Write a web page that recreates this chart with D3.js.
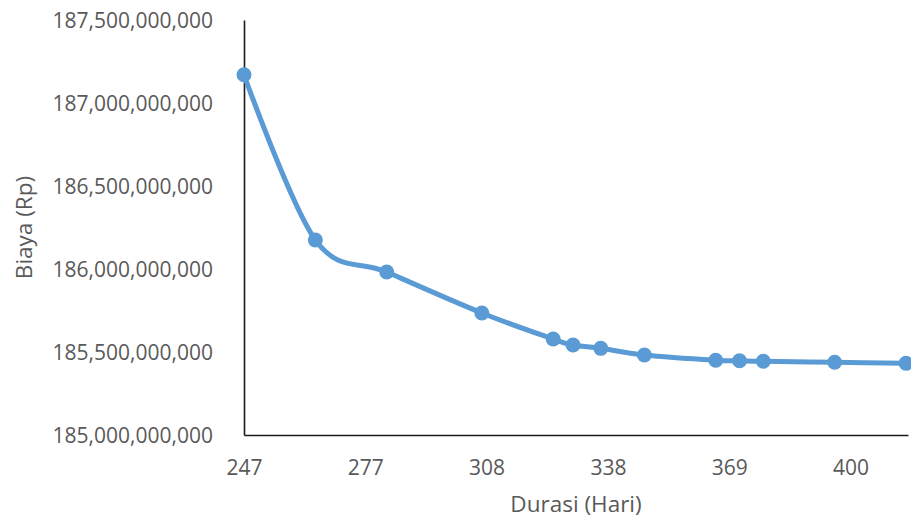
<!DOCTYPE html>
<html>
<head>
<meta charset="utf-8">
<script src="https://cdn.jsdelivr.net/npm/d3@7"></script>
<style>
  html, body { margin: 0; padding: 0; background: #ffffff; }
  svg { display: block; }
  text { font-family: "Open Sans", Lato, sans-serif; fill: #595959; }
</style>
</head>
<body>
<svg id="chart" width="911" height="519"></svg>
<script>
// Project duration (days) against total cost (Rp)
const durasi = [247, 265, 283, 307, 325, 330, 337, 348, 366, 372, 378, 396, 414];
const biaya = [
  187170000000, 186175000000, 185982000000, 185735000000, 185578000000,
  185542000000, 185522000000, 185482000000, 185450000000, 185447000000,
  185444000000, 185438000000, 185432000000
];

const xTickValues = [247, 277.6, 308.2, 338.8, 369.4, 400];
const xTickLabels = ["247", "277", "308", "338", "369", "400"];
const yTickValues = [185000000000, 185500000000, 186000000000, 186500000000, 187000000000, 187500000000];

const xDomain = [247, 414.5];
const yDomain = [185000000000, 187500000000];

const xTitle = "Durasi (Hari)";
const yTitle = "Biaya (Rp)";

const width = 911, height = 519;
const margin = { top: 20, right: 3, bottom: 84, left: 244 };
const fontSize = "21px";
const titleSize = "22.5px";
const fontFamily = "'Open Sans', Lato, sans-serif";

const svg = d3.select("#chart");

const x = d3.scaleLinear().domain(xDomain).range([margin.left, width - margin.right]);
const y = d3.scaleLinear().domain(yDomain).range([height - margin.bottom, margin.top]);

const points = durasi.map((d, i) => ({ x: d, y: biaya[i] }));

// Axes
const xAxis = d3.axisBottom(x)
  .tickValues(xTickValues)
  .tickFormat((d, i) => xTickLabels[i])
  .tickSize(0);

const gx = svg.append("g")
  .attr("transform", `translate(0,${height - margin.bottom})`)
  .call(xAxis);
gx.select(".domain").attr("stroke", "#1a1a1a").attr("stroke-width", 1.6);
gx.selectAll(".tick text")
  .attr("y", 40)
  .attr("dy", 0)
  .style("font-size", fontSize)
  .style("font-family", fontFamily)
  .attr("fill", "#595959");

const yAxis = d3.axisLeft(y)
  .tickValues(yTickValues)
  .tickFormat(d3.format(","))
  .tickSize(0);

const gy = svg.append("g")
  .attr("transform", `translate(${margin.left},0)`)
  .call(yAxis);
gy.select(".domain").attr("stroke", "#1a1a1a").attr("stroke-width", 1.6);
gy.selectAll(".tick text")
  .attr("x", -31)
  .attr("dy", "0.36em")
  .style("font-size", fontSize)
  .style("font-family", fontFamily)
  .attr("fill", "#595959");

// Axis titles
svg.append("text")
  .attr("x", (margin.left + width - margin.right) / 2)
  .attr("y", 512)
  .attr("text-anchor", "middle")
  .style("font-size", titleSize)
  .text(xTitle);

svg.append("text")
  .attr("transform", `translate(32,${(margin.top + height - margin.bottom) / 2}) rotate(-90)`)
  .attr("text-anchor", "middle")
  .style("font-size", titleSize)
  .text(yTitle);

// Smoothed cost curve (uniform Catmull-Rom spline)
const line = d3.line()
  .x(d => x(d.x))
  .y(d => y(d.y))
  .curve(d3.curveCatmullRom.alpha(0));

svg.append("path")
  .datum(points)
  .attr("fill", "none")
  .attr("stroke", "#5B9BD5")
  .attr("stroke-width", 5)
  .attr("stroke-linejoin", "round")
  .attr("stroke-linecap", "round")
  .attr("d", line);

// Markers
svg.append("g")
  .selectAll("circle")
  .data(points)
  .join("circle")
  .attr("cx", d => x(d.x))
  .attr("cy", d => y(d.y))
  .attr("r", 7.5)
  .attr("fill", "#5B9BD5");
</script>
</body>
</html>
